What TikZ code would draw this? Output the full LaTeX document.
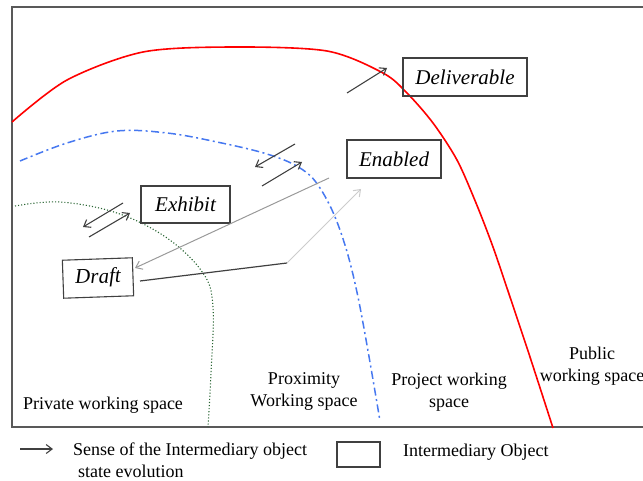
\documentclass[tikz,border=0pt]{standalone}
\usepackage{fontspec}
\setmainfont{Liberation Serif}
\usetikzlibrary{arrows.meta}
\begin{document}
\begin{tikzpicture}[x=1pt,y=-1pt,
  statebox/.style={draw=black!75,line width=1.1pt,inner sep=0pt,minimum height=38pt,font=\fontsize{21}{24}\selectfont\itshape},
  region/.style={font=\fontsize{18}{22}\selectfont,align=center,inner sep=0pt},
  legendtext/.style={font=\fontsize{18}{22}\selectfont,anchor=west,inner sep=0pt},
  evo/.style={draw=black!75,line width=1.1pt,-{Straight Barb[length=6pt,width=9pt,line width=1.1pt]}},
  frame/.style={draw=black!65,line width=1.4pt}
]
\useasboundingbox (0,0) rectangle (643,481);
% frame
\draw[frame] (646,7) -- (12,7) -- (12,427) -- (646,427);
% red public boundary
\draw[red,line width=1.6pt] plot[smooth,tension=0.5] coordinates {(12,122) (67,80) (143,52) (233,47) (327,51) (383,73) (407,93) (433,123) (457,160) (476,203) (493,247) (510,297) (530,357) (553,428)};
% blue project boundary
\draw[color={rgb,255:red,70;green,120;blue,240},line width=1.5pt,dash pattern=on 8pt off 3.5pt on 2pt off 3.5pt] plot[smooth,tension=0.6] coordinates {(20,161) (67,143) (117,131) (167,133) (217,142) (267,154) (300,168) (320,188) (340,230) (358,297) (380,421)};
% green private boundary
\draw[color={rgb,255:red,40;green,100;blue,50},line width=1.1pt,dotted] plot[smooth,tension=0.6] coordinates {(15,206) (60,202) (117,213) (167,238) (203,273) (213,307) (211,373) (208,427)};
% boxes
\node[statebox,minimum width=124pt] (deliv) at (465,77) {Deliverable};
\node[statebox,minimum width=94pt] (enab) at (394,159) {Enabled};
\node[statebox,minimum width=89pt,minimum height=37pt] (exh) at (185.5,204.5) {Exhibit};
\node[statebox,minimum width=70pt,rotate=2] (draft) at (98,278) {Draft};
% region labels
\node[region] (priv) at (103,405) {Private working space};
\node[region] (prox) at (304,391) {Proximity\\Working space};
\node[region] (proj) at (449,392) {Project working\\space};
\node[region] (pub) at (592,366) {Public\\working space};
% evolution arrows
\coordinate (d1) at (347,93); \coordinate (d2) at (387,68);
\draw[evo] (d1) -- (d2);
\coordinate (ba1) at (295,144); \coordinate (ba2) at (255,167);
\draw[evo] (ba1) -- (ba2);
\coordinate (bb1) at (262,186); \coordinate (bb2) at (302,162);
\draw[evo] (bb1) -- (bb2);
\coordinate (ga1) at (123,203); \coordinate (ga2) at (83,227);
\draw[evo] (ga1) -- (ga2);
\coordinate (gb1) at (89,237); \coordinate (gb2) at (130,213);
\draw[evo] (gb1) -- (gb2);
% gray line from Enabled to Draft
\coordinate (en1) at (329,178);
\coordinate (dr1) at (135,268);
\draw[draw=black!40,line width=1pt,-{Straight Barb[length=6pt,width=9pt,line width=1pt]}] (en1) -- (dr1);
% Draft to Enabled
\coordinate (dr2) at (140,281);
\coordinate (knee) at (287,263);
\coordinate (en2) at (361,189);
\draw[draw=black!75,line width=1.2pt] (dr2) -- (knee);
\draw[draw=black!20,line width=1pt,-{Straight Barb[length=6pt,width=9pt,line width=1pt]}] (knee) -- (en2);
% legend
\coordinate (l1) at (20,449); \coordinate (l2) at (53,449);
\draw[evo] (l1) -- (l2);
\node[legendtext] (sense) at (73,451) {Sense of the Intermediary object};
\node[legendtext] (state) at (78,471) {state evolution};
\node[draw=black!75,line width=1.1pt,minimum width=43pt,minimum height=25pt,inner sep=0pt] (lbox) at (358.5,454.5) {};
\node[legendtext] (iobj) at (403,452) {Intermediary Object};
\end{tikzpicture}
\end{document}
